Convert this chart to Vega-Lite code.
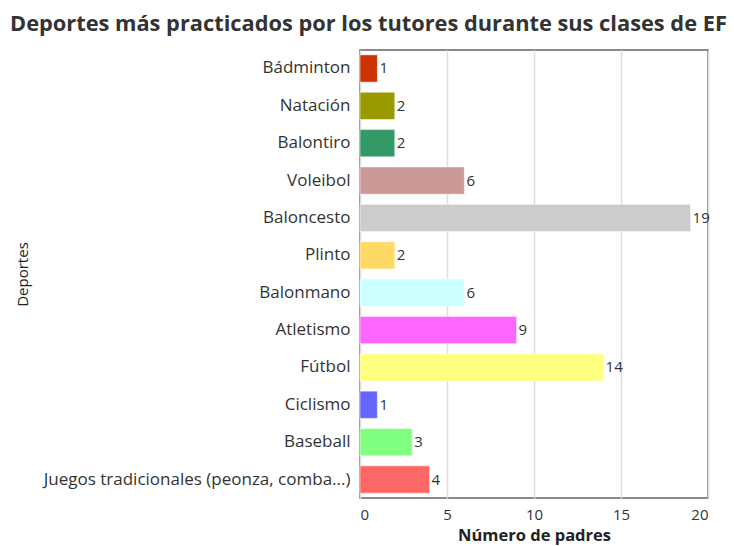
{
  "$schema": "https://vega.github.io/schema/vega-lite/v6.json",
  "autosize": {"type": "none"},
  "padding": {"left": 360, "top": 50, "right": 26, "bottom": 48},
  "width": 348,
  "height": 448,
  "background": "white",
  "title": {
    "text": "Deportes más practicados por los tutores durante sus clases de EF",
    "anchor": "start",
    "frame": "group",
    "dx": -350,
    "offset": 14,
    "font": "Open Sans",
    "fontSize": 21.8,
    "fontWeight": "bold",
    "color": "#333333"
  },
  "data": {
    "values": [
      {"deporte": "Bádminton", "n": 1, "color": "#CC3300"},
      {"deporte": "Natación", "n": 2, "color": "#999900"},
      {"deporte": "Balontiro", "n": 2, "color": "#339966"},
      {"deporte": "Voleibol", "n": 6, "color": "#CC9999"},
      {"deporte": "Baloncesto", "n": 19, "color": "#CCCCCC"},
      {"deporte": "Plinto", "n": 2, "color": "#FFD966"},
      {"deporte": "Balonmano", "n": 6, "color": "#CCFFFF"},
      {"deporte": "Atletismo", "n": 9, "color": "#FF66FF"},
      {"deporte": "Fútbol", "n": 14, "color": "#FFFF80"},
      {"deporte": "Ciclismo", "n": 1, "color": "#6666FF"},
      {"deporte": "Baseball", "n": 3, "color": "#80FF80"},
      {"deporte": "Juegos tradicionales (peonza, comba...)", "n": 4, "color": "#FF6666"}
    ]
  },
  "config": {
    "view": {"stroke": "#666666", "strokeWidth": 1.5},
    "font": "Open Sans"
  },
  "encoding": {
    "y": {
      "field": "deporte",
      "type": "nominal",
      "sort": null,
      "scale": {"paddingInner": 0.27, "paddingOuter": 0.13},
      "axis": {
        "title": "Deportes",
        "titleFont": "Open Sans",
        "titleFontSize": 15,
        "titleFontWeight": "normal",
        "titleColor": "#222222",
        "titleX": -338,
        "titleY": 224,
        "titleAngle": -90,
        "titleBaseline": "middle",
        "labelFont": "Open Sans",
        "labelFontSize": 17,
        "labelColor": "#333333",
        "labelPadding": 10,
        "labelLimit": 340,
        "ticks": false,
        "domain": false,
        "grid": false
      }
    },
    "x": {
      "field": "n",
      "type": "quantitative",
      "scale": {"domain": [0, 20], "nice": false},
      "axis": {
        "title": "Número de padres",
        "titleFont": "Open Sans",
        "titleFontSize": 16.5,
        "titleFontWeight": "bold",
        "titleColor": "#222222",
        "titlePadding": 5,
        "labelFont": "Open Sans",
        "labelFontSize": 15,
        "labelColor": "#333333",
        "labelPadding": 9,
        "values": [0, 5, 10, 15, 20],
        "ticks": false,
        "domain": false,
        "grid": true,
        "gridColor": "#dddddd",
        "gridWidth": 1.5
      }
    }
  },
  "layer": [
    {
      "mark": {"type": "bar", "stroke": "white", "strokeOpacity": 0.5, "strokeWidth": 1},
      "encoding": {
        "color": {"field": "color", "type": "nominal", "scale": null, "legend": null}
      }
    },
    {
      "mark": {"type": "text", "align": "left", "dx": 2, "baseline": "middle", "font": "Open Sans", "fontSize": 15, "color": "#333333"},
      "encoding": {
        "text": {"field": "n", "type": "quantitative"}
      }
    }
  ]
}
